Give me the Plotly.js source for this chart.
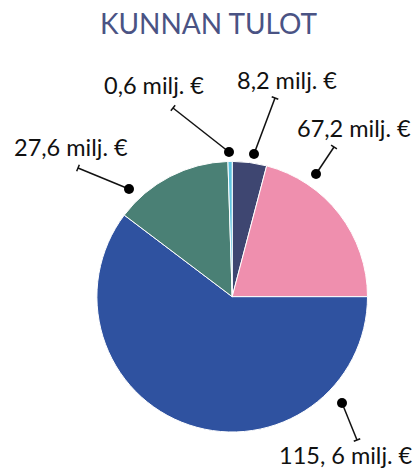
<!DOCTYPE html>
<html>
<head>
<meta charset="utf-8">
<script src="https://cdn.plot.ly/plotly-3.0.1.min.js"></script>
<style>html,body{margin:0;padding:0;background:#fff;}#chart{width:417px;height:469px;}</style>
</head>
<body>
<div id="chart"></div>
<script>
// Data (clockwise from 12 o'clock)
const sliceNames = ['Slice A', 'Slice B', 'Slice C', 'Slice D', 'Slice E'];
const sliceLabels = ['8,2 milj. €', '67,2 milj. €', '115, 6 milj. €', '27,6 milj. €', '0,6 milj. €'];
// Slice shares as drawn in the picture (percent of the circle)
const sliceShares = [4.1, 20.9, 60.3, 14.2, 0.5];
const sliceColors = ['#3e4671', '#ef8fae', '#2f52a0', '#4a8075', '#5cc3e0'];

// Label/leader layout in pixels (x from left, y from top)
const W = 417, H = 469;
const labelPos = [[286.5, 80], [354, 128], [345.5, 455], [71, 147], [154, 85]];
const dotPos = [[254, 154], [316, 174], [342, 403], [129, 189], [229, 152]];
const capPos = [[275, 98], [334, 147], [357, 440], [78, 168], [173, 108]];

const px = x => x / W;
const py = y => 1 - y / H;

const shapes = [];
const annotations = [];
for (let i = 0; i < sliceLabels.length; i++) {
  const [dx, dy] = dotPos[i];
  const [cx, cy] = capPos[i];
  shapes.push({type: 'line', xref: 'paper', yref: 'paper', x0: px(dx), y0: py(dy), x1: px(cx), y1: py(cy),
    line: {color: '#111', width: 1.5}});
  // T cap perpendicular to the leader
  const vx = cx - dx, vy = cy - dy, len = Math.hypot(vx, vy);
  const nx = -vy / len * 3.5, ny = vx / len * 3.5;
  shapes.push({type: 'line', xref: 'paper', yref: 'paper', x0: px(cx - nx), y0: py(cy - ny), x1: px(cx + nx), y1: py(cy + ny),
    line: {color: '#111', width: 1.5}});
  shapes.push({type: 'circle', xref: 'paper', yref: 'paper', x0: px(dx - 5), x1: px(dx + 5), y0: py(dy + 5), y1: py(dy - 5),
    fillcolor: '#000', line: {color: '#000', width: 0}});
  annotations.push({xref: 'paper', yref: 'paper', x: px(labelPos[i][0]), y: py(labelPos[i][1]),
    xanchor: 'center', yanchor: 'middle', showarrow: false, text: sliceLabels[i], borderpad: 0,
    font: {family: 'Lato, sans-serif', size: 23.5, color: '#111'}});
}

const cxp = 232.2, cyp = 296.7, r = 135.3;
const data = [{
  type: 'pie',
  labels: sliceNames,
  values: sliceShares,
  sort: false,
  direction: 'clockwise',
  rotation: 0,
  textinfo: 'none',
  hoverinfo: 'none',
  marker: {colors: sliceColors, line: {color: '#ffffff', width: 1}},
  domain: {x: [(cxp - r) / W, (cxp + r) / W], y: [1 - (cyp + r) / H, 1 - (cyp - r) / H]},
  showlegend: false
}];

const layout = {
  width: W, height: H,
  margin: {l: 0, r: 0, t: 0, b: 0},
  paper_bgcolor: '#ffffff',
  title: {text: 'KUNNAN TULOT', x: 208.5 / W, xanchor: 'center', y: 1 - 24 / H, yanchor: 'middle',
    font: {family: 'Lato, sans-serif', size: 28, color: '#4a5384'}},
  shapes: shapes,
  annotations: annotations
};

Plotly.newPlot('chart', data, layout, {displayModeBar: false, staticPlot: true});
</script>
</body>
</html>
